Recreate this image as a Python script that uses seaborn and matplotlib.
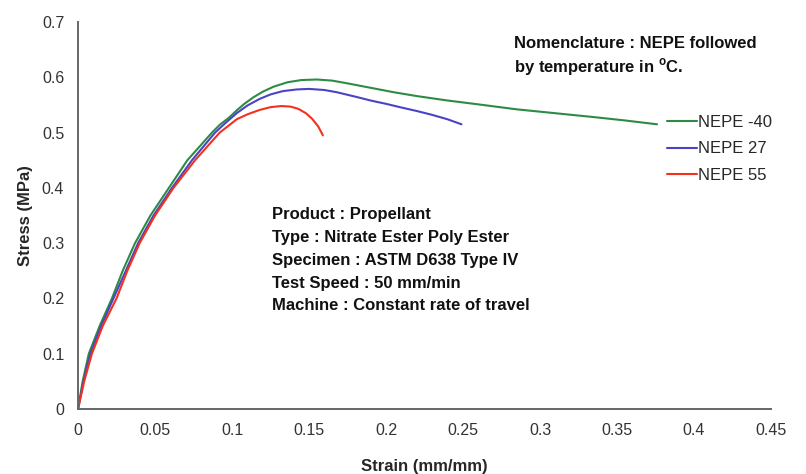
import numpy as np
import pandas as pd
import matplotlib
matplotlib.use("Agg")
import matplotlib.pyplot as plt
import seaborn as sb

# stress-strain values
strain_m40 = [0, 0.003, 0.007, 0.014, 0.022, 0.029, 0.037, 0.047, 0.059, 0.071, 0.087,
              0.092, 0.098, 0.103, 0.108, 0.114, 0.12, 0.127, 0.136, 0.145, 0.155, 0.165,
              0.175, 0.19, 0.205, 0.22, 0.24, 0.26, 0.285, 0.31, 0.335, 0.355, 0.376]
stress_m40 = [0, 0.05, 0.1, 0.15, 0.2, 0.25, 0.3, 0.35, 0.4, 0.45, 0.5,
              0.514, 0.527, 0.54, 0.552, 0.564, 0.574, 0.583, 0.591, 0.595, 0.596, 0.594,
              0.589, 0.581, 0.573, 0.566, 0.558, 0.551, 0.542, 0.535, 0.528, 0.522, 0.515]

strain_27 = [0, 0.0035, 0.008, 0.015, 0.023, 0.031, 0.039, 0.049, 0.061, 0.074, 0.089,
             0.096, 0.103, 0.11, 0.118, 0.125, 0.133, 0.142, 0.15, 0.16, 0.168, 0.18,
             0.19, 0.2, 0.209, 0.22, 0.23, 0.24, 0.249]
stress_27 = [0, 0.05, 0.1, 0.15, 0.2, 0.25, 0.3, 0.35, 0.4, 0.45, 0.5,
             0.518, 0.535, 0.549, 0.561, 0.569, 0.575, 0.578, 0.579, 0.577, 0.573, 0.565,
             0.558, 0.552, 0.546, 0.539, 0.532, 0.524, 0.515]

strain_55 = [0, 0.004, 0.009, 0.016, 0.025, 0.032, 0.040, 0.050, 0.062, 0.076, 0.092,
             0.098, 0.103, 0.11, 0.118, 0.125, 0.132, 0.138, 0.143, 0.148, 0.152, 0.156, 0.159]
stress_55 = [0, 0.05, 0.1, 0.15, 0.2, 0.25, 0.3, 0.35, 0.4, 0.45, 0.5,
             0.513, 0.524, 0.533, 0.541, 0.546, 0.548, 0.547, 0.543, 0.535, 0.525, 0.511, 0.495]

labels = ["NEPE -40", "NEPE 27", "NEPE 55"]
colors = ["#2E8B45", "#4A44C4", "#F2311E"]

x_ticks = [0, 0.05, 0.1, 0.15, 0.2, 0.25, 0.3, 0.35, 0.4, 0.45]
x_tick_labels = ["0", "0.05", "0.1", "0.15", "0.2", "0.25", "0.3", "0.35", "0.4", "0.45"]
y_ticks = [0, 0.1, 0.2, 0.3, 0.4, 0.5, 0.6, 0.7]
y_tick_labels = ["0", "0.1", "0.2", "0.3", "0.4", "0.5", "0.6", "0.7"]

info_lines = ["Product : Propellant",
              "Type : Nitrate Ester Poly Ester",
              "Specimen : ASTM D638 Type IV",
              "Test Speed : 50 mm/min",
              "Machine : Constant rate of travel"]
note_lines = ["Nomenclature : NEPE followed", "by temperature in $^{\\mathregular{o}}$C."]

frames = []
for lab, xs, ys in zip(labels, [strain_m40, strain_27, strain_55],
                       [stress_m40, stress_27, stress_55]):
    frames.append(pd.DataFrame({"strain": xs, "stress": ys, "sample": lab}))
df = pd.concat(frames, ignore_index=True)

sb.set_style("white")
plt.rcParams['font.family'] = ['Liberation Sans', 'DejaVu Sans']

fig = plt.figure(figsize=(8.06, 4.74), dpi=100)
ax = fig.add_axes([0.0968, 0.137, 0.8598, 0.8166])

sb.lineplot(data=df, x="strain", y="stress", hue="sample", palette=colors,
            hue_order=labels, sort=False, estimator=None, linewidth=1.5, ax=ax)

ax.set_xlim(0, 0.45)
ax.set_ylim(0, 0.7)
ax.set_xticks(x_ticks)
ax.set_xticklabels(x_tick_labels)
ax.set_yticks(y_ticks)
ax.set_yticklabels(y_tick_labels)
ax.tick_params(axis="both", direction="out", length=5, width=1.2, color="#666666",
               labelsize=11.5, labelcolor="#333333", pad=5)
for s in ["top", "right"]:
    ax.spines[s].set_visible(False)
for s in ["left", "bottom"]:
    ax.spines[s].set_color("#666666")
    ax.spines[s].set_linewidth(1.4)

ax.set_xlabel("Strain (mm/mm)", fontsize=12, fontweight="bold", labelpad=15)
ax.set_ylabel("Stress (MPa)", fontsize=12, fontweight="bold", labelpad=6)

handles, labs = ax.get_legend_handles_labels()
ax.legend(handles, labs, loc="center left", bbox_to_anchor=(0.8275, 0.6857),
          bbox_transform=fig.transFigure, frameon=False, fontsize=12,
          handlelength=1.8, handletextpad=0.05, labelspacing=0.68,
          borderpad=0, borderaxespad=0)

for i, line in enumerate(info_lines):
    fig.text(272 / 806, 1 - (215 + i * 22.7) / 474, line, fontsize=12,
             fontweight="bold", va="center", ha="left", color="#111111")
for i, line in enumerate(note_lines):
    fig.text(514 / 806, 1 - (43 + i * 24) / 474, line, fontsize=12,
             fontweight="bold", va="center", ha="left", color="#111111")

fig.savefig("out.png", dpi=100)
